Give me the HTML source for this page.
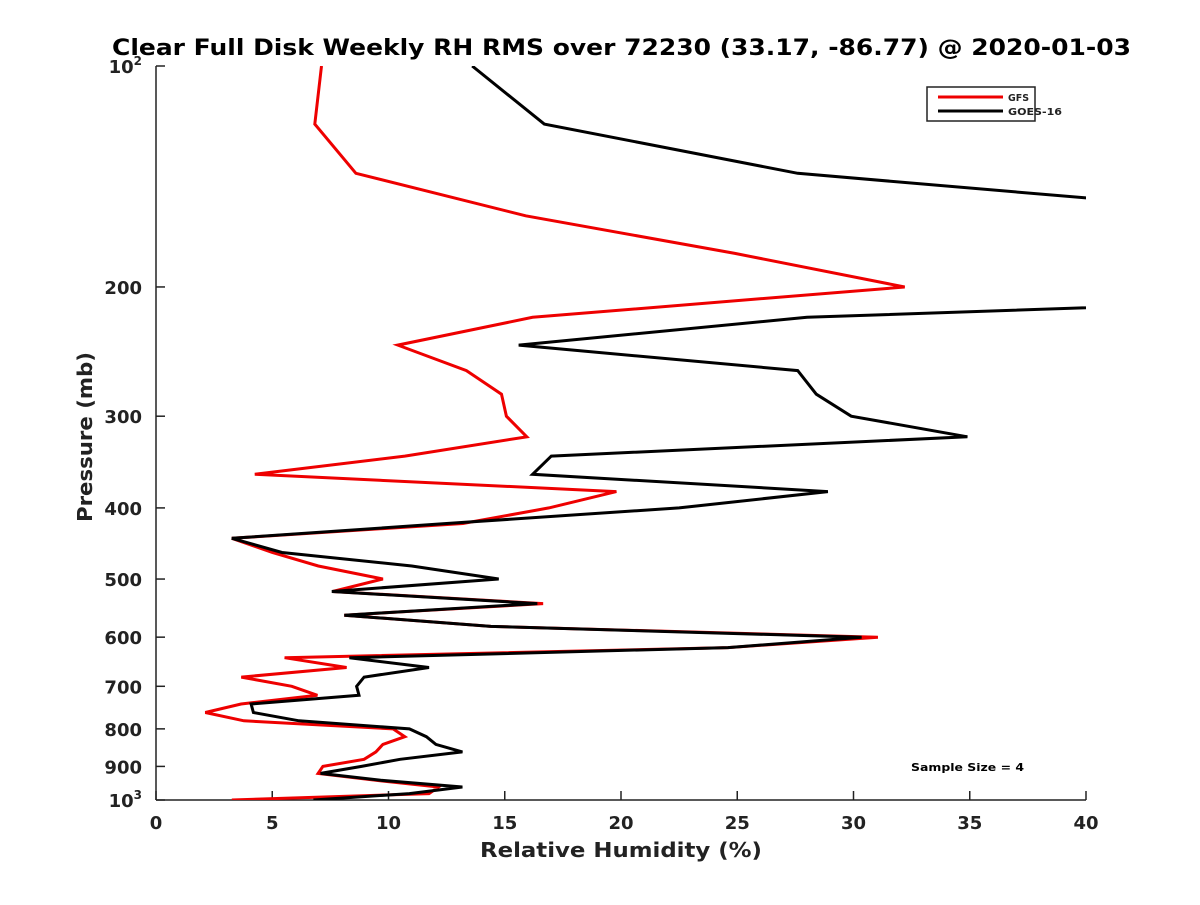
<!DOCTYPE html>
<html><head><meta charset="utf-8"><style>
body{margin:0;background:#fff;}
svg text{font-family:"DejaVu Sans","Liberation Sans",sans-serif;font-weight:bold;fill:#222;}
</style></head><body>
<svg id="chart" width="1200" height="900" xmlns="http://www.w3.org/2000/svg">
<defs><clipPath id="plotclip"><rect x="156" y="66" width="930" height="734"/></clipPath></defs>
<text x="112" y="55" font-size="22" textLength="1019" lengthAdjust="spacingAndGlyphs" style="fill:#000">Clear Full Disk Weekly RH RMS over 72230 (33.17, -86.77) @ 2020-01-03</text>
<g id="axes"></g>
<g id="series" clip-path="url(#plotclip)"></g>
<g>
<rect x="927" y="87" width="108" height="34" fill="#fff" stroke="#222" stroke-width="1.5"/>
<line x1="938" y1="97" x2="1003" y2="97" stroke="#e00" stroke-width="3"/>
<text x="1008" y="101" font-size="10" textLength="21" lengthAdjust="spacingAndGlyphs">GFS</text>
<line x1="938" y1="111" x2="1003" y2="111" stroke="#000" stroke-width="3"/>
<text x="1008" y="115" font-size="10" textLength="54" lengthAdjust="spacingAndGlyphs">GOES-16</text>
</g>
<text x="911" y="771" font-size="11" textLength="113" lengthAdjust="spacingAndGlyphs" style="fill:#000">Sample Size = 4</text>
<text x="480" y="857" font-size="20" textLength="282" lengthAdjust="spacingAndGlyphs">Relative Humidity (%)</text>
<text x="0" y="0" font-size="20" text-anchor="middle" textLength="170" lengthAdjust="spacingAndGlyphs" transform="translate(92,437) rotate(-90)">Pressure (mb)</text>
</svg>
<script>
const pressureLevels = [100,120,140,160,180,200,220,240,260,280,300,320,340,360,380,400,420,440,460,480,500,520,540,560,580,600,620,640,660,680,700,720,740,760,780,800,820,840,860,880,900,920,940,960,980,1000];
const gfsRH = [7.12,6.83,8.6,15.9,24.9,32.2,16.2,10.4,13.35,14.86,15.07,15.95,10.7,4.25,19.8,16.9,13.2,3.26,5.0,6.98,9.76,7.6,16.65,8.1,14.4,31.05,24.6,5.53,8.2,3.67,5.84,6.94,3.66,2.12,3.78,10.2,10.7,9.76,9.46,8.95,7.18,6.97,9.46,12.15,11.74,3.26];
const goesRH = [13.6,16.7,27.6,49,58,66,28.0,15.6,27.6,28.4,29.9,34.9,17.0,16.2,28.9,22.5,12.5,3.26,5.42,11.0,14.74,7.56,16.4,8.1,14.4,30.35,24.6,8.32,11.74,8.95,8.63,8.73,4.09,4.19,6.15,10.9,11.63,12.04,13.18,10.5,8.84,7.08,9.67,13.18,10.9,6.77];
const xTicks = [0,5,10,15,20,25,30,35,40];
const yTicks = [100,200,300,400,500,600,700,800,900,1000];

const X0=156,X1=1086,Y0=66,Y1=800;
function xs(v){return X0+(v-0)/40*(X1-X0);}
function ys(p){return Y0+Math.log10(p/100)*(Y1-Y0);}
const NS='http://www.w3.org/2000/svg';
function mk(tag,attrs,parent){const e=document.createElementNS(NS,tag);for(const k in attrs)e.setAttribute(k,attrs[k]);parent.appendChild(e);return e;}
const axes=document.getElementById('axes');
const series=document.getElementById('series');

let yl=mk('line',{x1:X0,y1:Y0,x2:X0,y2:Y1,stroke:'#222','stroke-width':1.5},axes);


let xl=mk('line',{x1:X0,y1:Y1,x2:X1,y2:Y1,stroke:'#222','stroke-width':1.5},axes);



xTicks.forEach(v=>{
  const x=xs(v);
  let t=mk('line',{x1:x,y1:Y1,x2:x,y2:Y1-9,stroke:'#222','stroke-width':1.5},axes);
  
  
  let l=mk('text',{x:x,y:829,'font-size':18,'text-anchor':'middle'},axes);
  l.textContent=v;
  
  
});
yTicks.forEach(p=>{
  const y=ys(p);
  let t=mk('line',{x1:X0,y1:y,x2:X0+9,y2:y,stroke:'#222','stroke-width':1.5},axes);
  
  
  let l=mk('text',{x:142,y:y+7,'font-size':18,'text-anchor':'end'},axes);
  if(p===100||p===1000){
    l.textContent='10';
    const s=mk('tspan',{dy:-8,'font-size':12},l);
    s.textContent=p===100?'2':'3';
  } else l.textContent=p;
  
  
});

function drawLine(vals,color,name){
  const pts=vals.map((v,i)=>xs(v).toFixed(1)+','+ys(pressureLevels[i]).toFixed(1)).join(' ');
  const pl=mk('polyline',{points:pts,fill:'none',stroke:color,'stroke-width':3,'stroke-linejoin':'miter'},series);
  
  
}
drawLine(gfsRH,'#e00','gfs-line');
drawLine(goesRH,'#000','goes16-line');
</script>
</body></html>
